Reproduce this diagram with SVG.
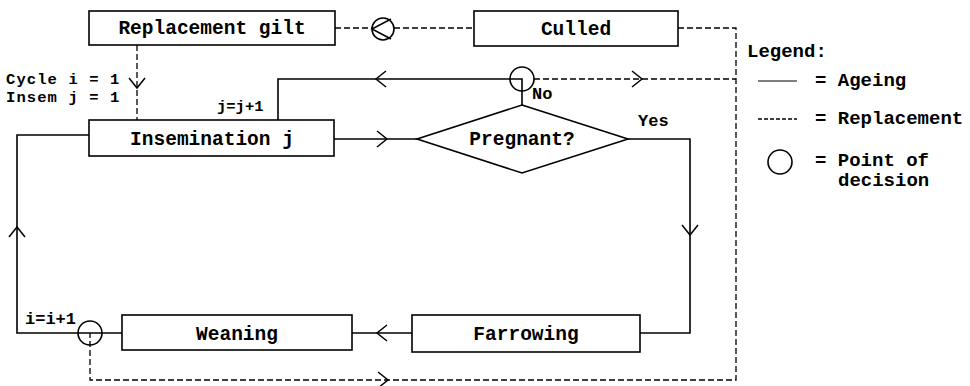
<svg xmlns="http://www.w3.org/2000/svg" xmlns:xlink="http://www.w3.org/1999/xlink" width="970" height="386" viewBox="0 0 970 386">
  <style>
    .box { fill: #fff; stroke: #000; stroke-width: 1.6; }
    .solid { fill: none; stroke: #000; stroke-width: 1.6; }
    .dash { fill: none; stroke: #000; stroke-width: 1.3; stroke-dasharray: 6 3; }
    .chev { fill: none; stroke: #000; stroke-width: 1.5; }
    .dec { fill: none; stroke: #000; stroke-width: 1.6; }
    text { font-family: "Liberation Mono", "Courier New", monospace; font-weight: bold; fill: #000; }
    .lbl { font-size: 19.5px; }
    .leg { font-size: 19px; }
    .sm { font-size: 17px; }
    .ini { font-size: 15.5px; letter-spacing: 1.1px; }
    .xs { font-size: 15.5px; }
  </style>
  <defs>
    <!-- open chevron, apex at origin, pointing right -->
    <path id="chev" class="chev" d="M -10 -8 L 0 0 L -10 8"/>
  </defs>

  <g id="connectors">
    <!-- replacement flows -->
    <path class="dash" d="M 335 28 L 372 28"/>
    <path class="dash" d="M 394 28 L 474 28"/>
    <path class="dash" d="M 678 28 L 736 28 L 736 380 L 90 380 L 90 333"/>
    <path class="dash" d="M 534 79 L 736 79"/>
    <path class="dash" d="M 137 45 L 137 120"/>
    <use xlink:href="#chev" transform="translate(137 88) rotate(90)"/>
    <use xlink:href="#chev" transform="translate(642 79)"/>
    <use xlink:href="#chev" transform="translate(388 380)"/>

    <!-- ageing flows -->
    <path class="solid" d="M 278 120 L 278 79 L 522 79 L 522 105"/>
    <use xlink:href="#chev" transform="translate(376 79) rotate(180)"/>
    <path class="solid" d="M 334 139 L 417 139"/>
    <use xlink:href="#chev" transform="translate(387 139)"/>
    <path class="solid" d="M 628 139 L 690 139 L 690 333 L 640 333"/>
    <use xlink:href="#chev" transform="translate(690 235) rotate(90)"/>
    <path class="solid" d="M 412 333 L 352 333"/>
    <use xlink:href="#chev" transform="translate(377 333) rotate(180)"/>
    <path class="solid" d="M 122 333 L 17 333 L 17 135 L 89 135"/>
    <use xlink:href="#chev" transform="translate(17 227) rotate(-90)"/>
  </g>

  <g id="replacement-gilt">
    <rect class="box" x="89" y="11" width="246" height="34"/>
    <text class="lbl" x="212" y="34" text-anchor="middle">Replacement gilt</text>
  </g>

  <g id="replacement-point">
    <circle class="dec" cx="383" cy="29" r="11"/>
    <path class="chev" d="M 391 19 L 372 29 L 391 39"/>
  </g>

  <g id="culled">
    <rect class="box" x="474" y="11" width="204" height="35"/>
    <text class="lbl" x="576" y="35" text-anchor="middle">Culled</text>
  </g>

  <g id="pregnancy-point">
    <circle class="dec" cx="522" cy="79" r="12"/>
    <text class="sm" x="532" y="99">No</text>
  </g>

  <g id="inits">
    <text class="ini" x="6" y="84">Cycle i = 1</text>
    <text class="ini" x="6" y="102">Insem j = 1</text>
    <text class="xs" x="217" y="111">j=j+1</text>
  </g>

  <g id="insemination">
    <rect class="box" x="89" y="120" width="245" height="36"/>
    <text class="lbl" x="212" y="145" text-anchor="middle">Insemination j</text>
  </g>

  <g id="pregnant">
    <polygon class="box" points="522,105 628,139 522,173 417,139"/>
    <text class="lbl" x="522" y="145" text-anchor="middle">Pregnant?</text>
    <text class="sm" x="638" y="126">Yes</text>
  </g>

  <g id="farrowing">
    <rect class="box" x="412" y="315" width="228" height="37"/>
    <text class="lbl" x="526" y="340" text-anchor="middle">Farrowing</text>
  </g>

  <g id="weaning">
    <rect class="box" x="122" y="315" width="230" height="35"/>
    <text class="lbl" x="237" y="340" text-anchor="middle">Weaning</text>
  </g>

  <g id="weaning-point">
    <circle class="dec" cx="90" cy="333" r="12"/>
    <text class="sm" x="25" y="324">i=i+1</text>
  </g>

  <g id="legend">
    <text class="leg" x="747" y="57">Legend:</text>
    <path class="solid" d="M 758 81 L 797 81" style="stroke-width:1.2"/>
    <text class="leg" x="815" y="86">= Ageing</text>
    <path class="dash" d="M 758 119 L 797 119" style="stroke-dasharray:4 2"/>
    <text class="leg" x="815" y="124">= Replacement</text>
    <circle class="dec" cx="780" cy="162" r="12"/>
    <text class="leg" x="815" y="166">= Point of</text>
    <text class="leg" x="838" y="186">decision</text>
  </g>
</svg>
